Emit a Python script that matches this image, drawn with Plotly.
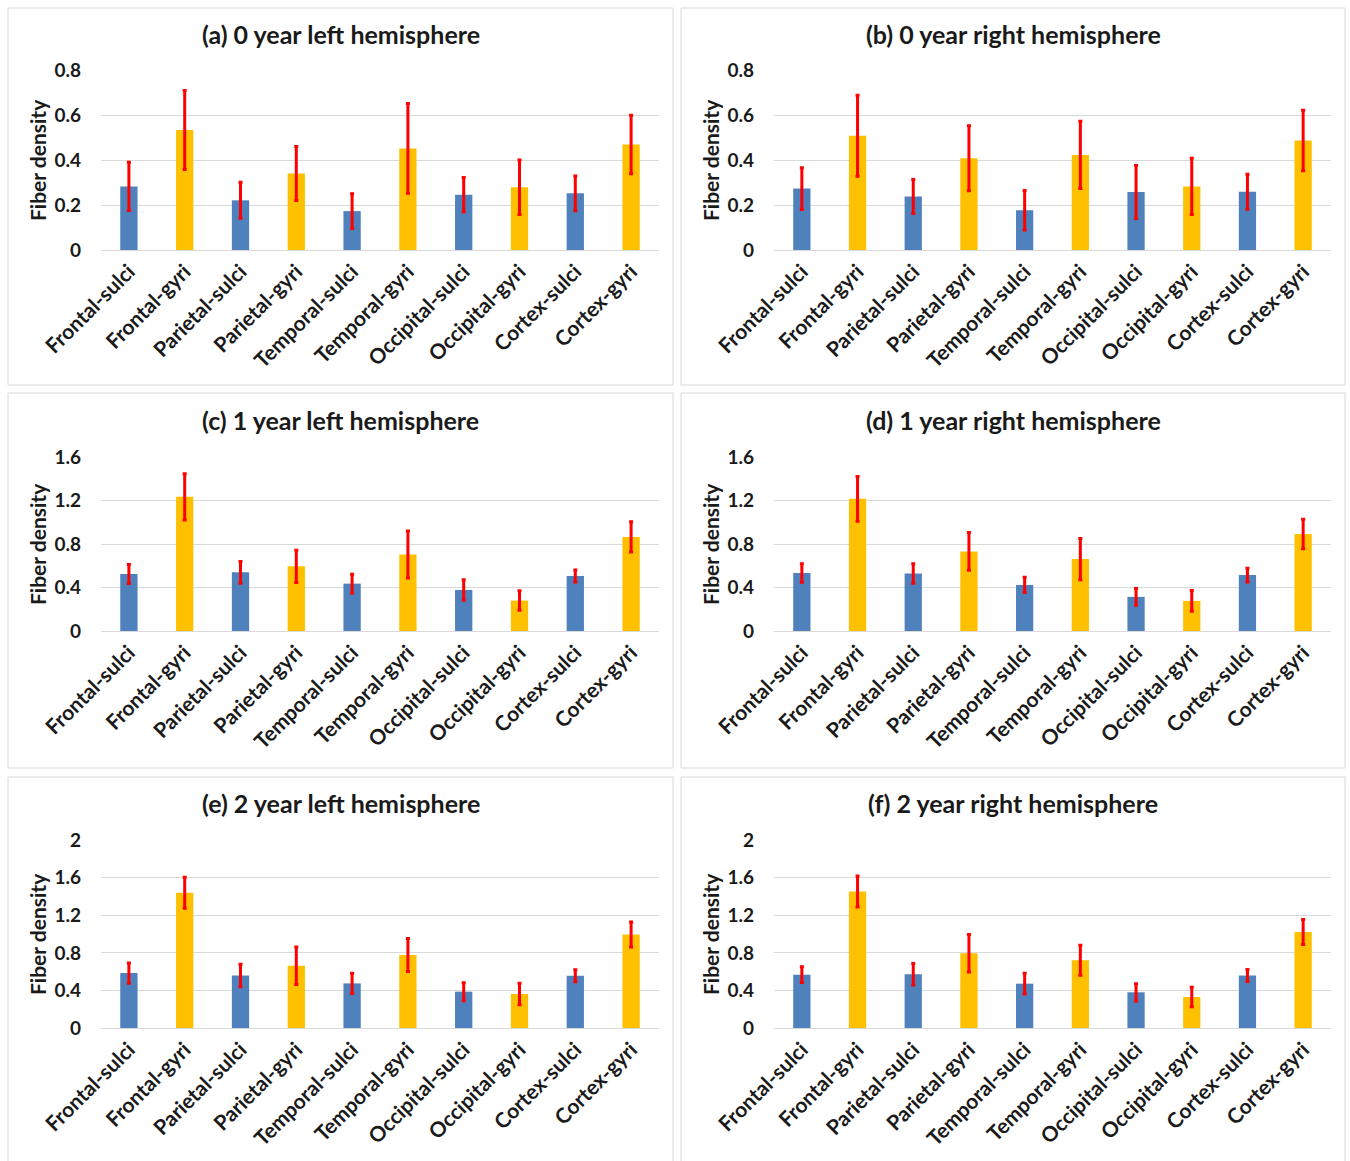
import plotly.graph_objects as go

W, H = 1350, 1161

categories = ["Frontal-sulci", "Frontal-gyri", "Parietal-sulci", "Parietal-gyri",
              "Temporal-sulci", "Temporal-gyri", "Occipital-sulci", "Occipital-gyri",
              "Cortex-sulci", "Cortex-gyri"]

# Mean fiber density and error bar half-length per region
mean_0y_left = [0.283, 0.534, 0.221, 0.340, 0.173, 0.452, 0.246, 0.279, 0.252, 0.469]
err_0y_left = [0.107, 0.176, 0.080, 0.120, 0.077, 0.200, 0.076, 0.121, 0.077, 0.130]
mean_0y_right = [0.273, 0.508, 0.238, 0.408, 0.177, 0.423, 0.258, 0.283, 0.259, 0.487]
err_0y_right = [0.093, 0.180, 0.076, 0.145, 0.088, 0.150, 0.118, 0.125, 0.078, 0.135]
mean_1y_left = [0.524, 1.235, 0.540, 0.595, 0.436, 0.704, 0.378, 0.280, 0.506, 0.866]
err_1y_left = [0.088, 0.213, 0.100, 0.148, 0.087, 0.216, 0.094, 0.090, 0.055, 0.140]
mean_1y_right = [0.534, 1.216, 0.530, 0.732, 0.424, 0.662, 0.314, 0.277, 0.515, 0.893]
err_1y_right = [0.085, 0.205, 0.090, 0.174, 0.070, 0.190, 0.076, 0.096, 0.063, 0.135]
mean_2y_left = [0.585, 1.440, 0.560, 0.663, 0.475, 0.777, 0.387, 0.362, 0.557, 0.996]
err_2y_left = [0.108, 0.165, 0.120, 0.200, 0.108, 0.175, 0.096, 0.115, 0.064, 0.133]
mean_2y_right = [0.568, 1.453, 0.572, 0.796, 0.472, 0.721, 0.380, 0.330, 0.558, 1.023]
err_2y_right = [0.083, 0.165, 0.115, 0.200, 0.110, 0.160, 0.092, 0.105, 0.064, 0.133]

panel_titles = ["(a) 0 year left hemisphere", "(b) 0 year right hemisphere",
                "(c) 1 year left hemisphere", "(d) 1 year right hemisphere",
                "(e) 2 year left hemisphere", "(f) 2 year right hemisphere"]
panel_means = [mean_0y_left, mean_0y_right, mean_1y_left, mean_1y_right, mean_2y_left, mean_2y_right]
panel_errs = [err_0y_left, err_0y_right, err_1y_left, err_1y_right, err_2y_left, err_2y_right]
y_max = [0.8, 0.8, 1.6, 1.6, 2, 2]
y_step = [0.2, 0.2, 0.4, 0.4, 0.4, 0.4]

SULCI_COLOR = "#4F81BD"
GYRI_COLOR = "#FFC000"
ERR_COLOR = "#FF0000"
GRID_COLOR = "#D9D9D9"
TEXT_COLOR = "#1A1A1A"
FONT = "Lato"

# pixel geometry of the 3x2 grid
col_plot = [(101, 659), (774, 1331)]
row_plot = [(70, 250), (457, 631), (840, 1028)]
col_box = [(8, 673), (681, 1345)]
row_box = [(8, 385), (393, 768), (777, 1168)]
row_title_y = [34, 420, 803]
col_ytitle_x = [37, 710]


def px_x(x):
    return x / W


def px_y(y):
    return 1 - y / H


fig = go.Figure()
shapes = []
annotations = []

for i in range(6):
    r, c = divmod(i, 2)
    n = i + 1
    xa = "x" if n == 1 else f"x{n}"
    ya = "y" if n == 1 else f"y{n}"
    colors = [SULCI_COLOR if name.endswith("sulci") else GYRI_COLOR for name in categories]

    fig.add_trace(go.Bar(
        x=categories, y=panel_means[i], xaxis=xa, yaxis=ya,
        marker=dict(color=colors, line=dict(width=0)),
        error_y=dict(type="data", array=panel_errs[i], visible=True,
                     color=ERR_COLOR, thickness=3, width=2),
        showlegend=False,
    ))

    x0, x1 = col_plot[c]
    ytop, ybot = row_plot[r]
    fig.update_layout(**{
        ("xaxis" if n == 1 else f"xaxis{n}"): dict(
            domain=[px_x(x0), px_x(x1)], anchor=ya, automargin=False,
            type="category", tickangle=-45,
            showgrid=False, showline=True, linecolor=GRID_COLOR, linewidth=1,
            ticks="", tickfont=dict(family=FONT, size=21, color=TEXT_COLOR, weight=700),
            fixedrange=True,
        ),
        ("yaxis" if n == 1 else f"yaxis{n}"): dict(
            domain=[px_y(ybot), px_y(ytop)], anchor=xa, automargin=False,
            range=[0, y_max[i] * 1.0008], dtick=y_step[i], tick0=0,
            showgrid=True, gridcolor=GRID_COLOR, gridwidth=1,
            zeroline=True, zerolinecolor=GRID_COLOR, zerolinewidth=1,
            showline=False, ticks="", ticklabelstandoff=19,
            tickfont=dict(family=FONT, size=19, color=TEXT_COLOR, weight=700),
            fixedrange=True,
        ),
    })

    bx0, bx1 = col_box[c]
    by0, by1 = row_box[r]
    shapes.append(dict(type="rect", xref="paper", yref="paper",
                       x0=px_x(bx0), x1=px_x(bx1), y0=px_y(by1), y1=px_y(by0),
                       line=dict(color=GRID_COLOR, width=1), fillcolor="rgba(0,0,0,0)"))

    annotations.append(dict(text=panel_titles[i], xref="paper", yref="paper",
                            x=px_x((bx0 + bx1) / 2), y=px_y(row_title_y[r]),
                            xanchor="center", yanchor="middle", showarrow=False,
                            font=dict(family=FONT, size=25, color=TEXT_COLOR, weight=700)))
    annotations.append(dict(text="Fiber density", xref="paper", yref="paper",
                            x=px_x(col_ytitle_x[c]), y=px_y((ytop + ybot) / 2),
                            xanchor="center", yanchor="middle", showarrow=False,
                            textangle=-90,
                            font=dict(family=FONT, size=21, color=TEXT_COLOR, weight=700)))

fig.update_layout(
    width=W, height=H,
    margin=dict(l=0, r=0, t=0, b=0, autoexpand=False),
    paper_bgcolor="white", plot_bgcolor="white",
    bargap=0.69,
    shapes=shapes, annotations=annotations,
    font=dict(family=FONT, color=TEXT_COLOR),
)

fig.write_html("out.html")
